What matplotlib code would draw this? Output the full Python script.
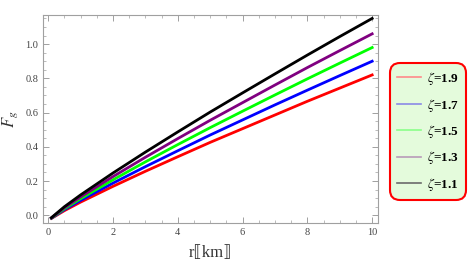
import matplotlib
matplotlib.use("Agg")
import matplotlib.pyplot as plt
from matplotlib.ticker import MultipleLocator

# valeurs
r = [0.1, 0.5, 1, 2, 3, 4, 5, 6, 7, 8, 9, 10]
fg_19 = [-0.018, 0.027, 0.077, 0.169, 0.257, 0.342, 0.426, 0.506, 0.586, 0.666, 0.743, 0.820]
fg_17 = [-0.017, 0.033, 0.087, 0.188, 0.284, 0.377, 0.469, 0.557, 0.645, 0.731, 0.816, 0.900]
fg_15 = [-0.016, 0.038, 0.097, 0.207, 0.312, 0.413, 0.512, 0.608, 0.703, 0.797, 0.889, 0.980]
fg_13 = [-0.015, 0.044, 0.107, 0.226, 0.339, 0.448, 0.555, 0.658, 0.761, 0.863, 0.962, 1.060]
fg_11 = [-0.014, 0.050, 0.119, 0.247, 0.369, 0.487, 0.603, 0.715, 0.826, 0.936, 1.044, 1.150]

labels = ["1.9", "1.7", "1.5", "1.3", "1.1"]
series = [fg_19, fg_17, fg_15, fg_13, fg_11]
colors = ["#ff0000", "#0000ff", "#00ff00", "#800080", "#000000"]
pale = ["#ff8a8a", "#8a8ae6", "#8aff8a", "#b89ab8", "#6a6a6a"]

plt.rcParams["font.family"] = ["Liberation Serif", "DejaVu Serif", "DejaVu Sans", "Noto Sans"]
plt.rcParams["mathtext.fontset"] = "stix"

fig = plt.figure(figsize=(4.68, 2.64), dpi=100)
ax = fig.add_axes([43 / 468, 1 - 223 / 264, (378 - 43) / 468, (223 - 15) / 264])

for ys, c in zip(series, colors):
    ax.plot(r, ys, color=c, lw=2)

ax.set_xlim(-0.16, 10.18)
ax.set_ylim(-0.045, 1.17)
ax.xaxis.set_major_locator(MultipleLocator(2))
ax.xaxis.set_minor_locator(MultipleLocator(0.5))
ax.yaxis.set_major_locator(MultipleLocator(0.2))
ax.yaxis.set_minor_locator(MultipleLocator(0.05))
ax.xaxis.set_major_formatter(lambda v, p: "%d" % round(v))
ax.yaxis.set_major_formatter(lambda v, p: "%.1f" % v)

for s in ax.spines.values():
    s.set_color("#a0a0a0")
ax.tick_params(which="both", direction="in", top=True, right=True,
               color="#a0a0a0", labelcolor="#444444", labelsize=7.5)
ax.tick_params(which="major", length=4, width=0.7)
ax.tick_params(which="minor", length=2, width=0.5)

ax.set_xlabel("r⟦km⟧", fontsize=12, color="#333333", labelpad=6)
ax.set_ylabel("$F_g$", fontsize=12, color="#333333", labelpad=4)

handles = [plt.Line2D([], [], color=p, lw=1.2) for p in pale]
leg = fig.legend(handles, [r"$\zeta$=" + l for l in labels],
                 loc="center", bbox_to_anchor=(428 / 468, 1 - 131.5 / 264),
                 prop={"weight": "bold", "size": 9.5},
                 handlelength=1.8, labelspacing=0.72, borderpad=0.55,
                 handletextpad=0.5, fancybox=True, framealpha=1)
frame = leg.get_frame()
frame.set_facecolor("#e4fbdc")
frame.set_edgecolor("#ff0000")
frame.set_linewidth(1.5)
frame.set_boxstyle("round,pad=0,rounding_size=0.8")

fig.savefig("out.png", dpi=100)
